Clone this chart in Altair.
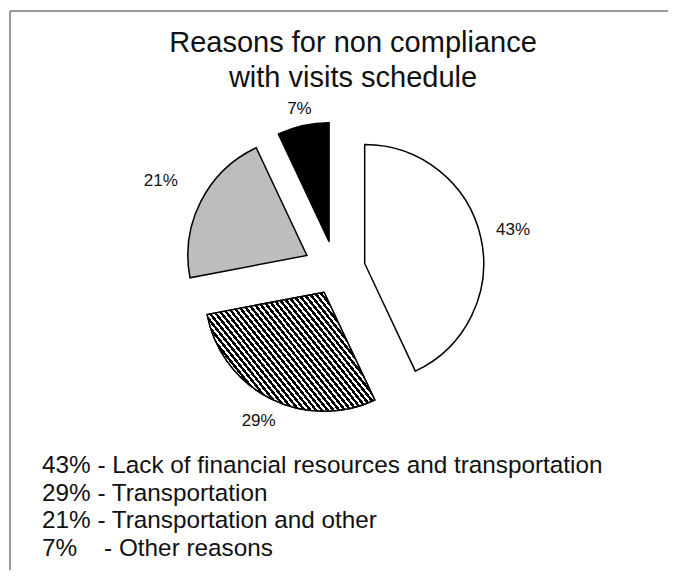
import altair as alt
import pandas as pd

# ---- data ----
categories = [
    "Lack of financial resources and transportation",
    "Transportation",
    "Transportation and other",
    "Other reasons",
]
values = [43, 29, 21, 7]
title_lines = ["Reasons for non compliance", "with visits schedule"]

# ---- styling ----
slice_fills = ["#ffffff", "#ffffff", "#bdbdbd", "#000000"]
explode_px = [30, 25, 32, 29]
label_radius = [182, 169, 196, 165]

W, H = 660, 562
CX, CY, R = 327.4, 262.0, 119
FONT = "Liberation Sans"

legend_lines = [
    f"{v}%" + ("\u00a0\u00a0\u00a0\u00a0- " if v < 10 else " - ") + c
    for v, c in zip(values, categories)
]

df = pd.DataFrame({
    "category": categories,
    "value": values,
    "idx": list(range(len(values))),
    "explode": explode_px,
    "label_r": label_radius,
    "legend": legend_lines,
})

base = (
    alt.Chart(df)
    .transform_joinaggregate(total="sum(value)")
    .transform_window(cum="sum(value)", sort=[alt.SortField("idx")], frame=[None, 0])
    .transform_calculate(a0="2*PI*(datum.cum - datum.value)/datum.total")
    .transform_calculate(a1="2*PI*datum.cum/datum.total")
    .transform_calculate(mid="(datum.a0 + datum.a1)/2")
    .transform_calculate(
        px=f"{CX} + datum.explode*sin(datum.mid)",
        py=f"{CY} - datum.explode*cos(datum.mid)",
        lx=f"{CX} + datum.label_r*sin(datum.mid)",
        ly=f"{CY} - datum.label_r*cos(datum.mid)",
        pct="datum.value + '%'",
        legy="458 + datum.idx*27.7",
    )
)

arcs = base.mark_arc(radius=R, stroke="black", strokeWidth=1.5).encode(
    theta=alt.Theta("a0:Q", scale=None),
    theta2="a1:Q",
    x=alt.X("px:Q", scale=None, axis=None),
    y=alt.Y("py:Q", scale=None, axis=None),
    fill=alt.Fill("category:N", scale=alt.Scale(domain=categories, range=slice_fills), legend=None),
)

n = 46
stops = []
for i in range(n):
    stops += [
        {"offset": i / n, "color": "#000000"},
        {"offset": (i + 0.55) / n, "color": "#000000"},
        {"offset": (i + 0.55) / n, "color": "#ffffff"},
        {"offset": (i + 1) / n, "color": "#ffffff"},
    ]
hatch = {"gradient": "linear", "x1": -0.1, "y1": 0.84, "x2": 1.1, "y2": 0.16, "stops": stops}

hatched = base.transform_filter("datum.idx == 1").mark_arc(
    radius=R, stroke="black", strokeWidth=1.5, fill=hatch
).encode(
    theta=alt.Theta("a0:Q", scale=None),
    theta2="a1:Q",
    x=alt.X("px:Q", scale=None, axis=None),
    y=alt.Y("py:Q", scale=None, axis=None),
)

labels = base.mark_text(font=FONT, fontSize=17, color="#111", baseline="middle", align="center").encode(
    x=alt.X("lx:Q", scale=None, axis=None),
    y=alt.Y("ly:Q", scale=None, axis=None),
    text="pct:N",
)

legend = base.mark_text(font=FONT, fontSize=24.3, color="#111", baseline="middle", align="left").encode(
    x=alt.value(34),
    y=alt.Y("legy:Q", scale=None, axis=None),
    text="legend:N",
)

dummy = pd.DataFrame({"t": title_lines, "row": [0, 1]})
title = alt.Chart(dummy).transform_calculate(ty="44 + datum.row*35").mark_text(
    font=FONT, fontSize=29, color="#111", baseline="alphabetic", align="center"
).encode(
    x=alt.value(345),
    y=alt.Y("ty:Q", scale=None, axis=None),
    text="t:N",
)

one = pd.DataFrame({"a": [0]})
top_rule = alt.Chart(one).mark_rule(color="#9a9a9a", strokeWidth=2).encode(
    x=alt.value(2), x2=alt.value(W), y=alt.value(3)
)
left_rule = alt.Chart(one).mark_rule(color="#9a9a9a", strokeWidth=2).encode(
    x=alt.value(2), y=alt.value(3), y2=alt.value(H)
)

chart = (
    alt.layer(top_rule, left_rule, arcs, hatched, labels, legend, title)
    .properties(width=W, height=H, autosize=alt.AutoSizeParams(type="none"), padding=0, background="white")
    .configure_view(stroke=None)
)

chart.save("out.html", embed_options={"renderer": "svg", "actions": False})
